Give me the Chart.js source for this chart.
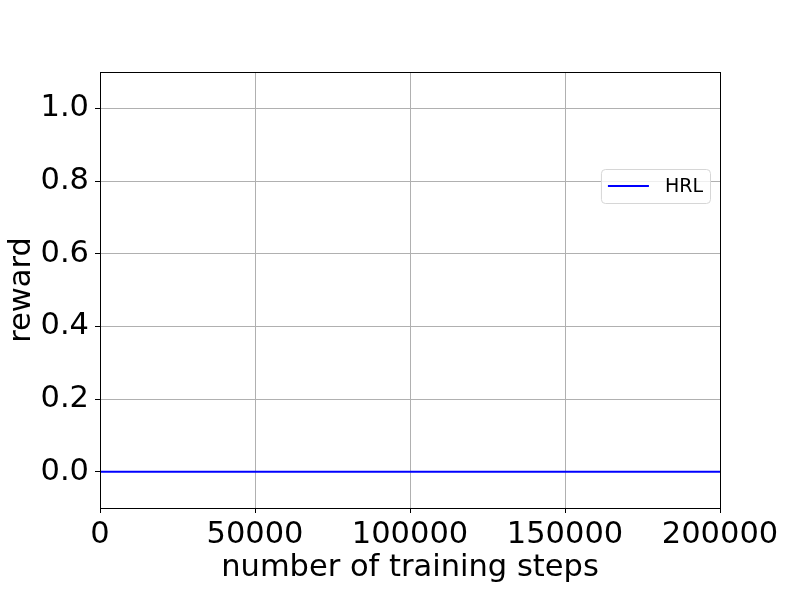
<!DOCTYPE html>
<html>
<head>
<meta charset="utf-8">
<script src="https://cdn.jsdelivr.net/npm/chart.js@4.4.0/dist/chart.umd.min.js"></script>
<style>
  body { margin: 0; background: #fff; }
  canvas { display: block; }
</style>
</head>
<body>
<canvas id="rewardChart" width="800" height="598"></canvas>
<script>
var steps   = [0, 50000, 100000, 150000, 200000];
var rewards = [0, 0, 0, 0, 0];
var seriesName = 'HRL';
var xTicks = [0, 50000, 100000, 150000, 200000];
var yTicks = [0.0, 0.2, 0.4, 0.6, 0.8, 1.0];

var fuente = 'DejaVu Sans';
var tam = 30.5;

// marco negro alrededor del area y leyenda estilo matplotlib
var marcoYLeyenda = {
    id: 'marcoYLeyenda',
    afterDraw: function(chart) {
        var ctx = chart.ctx;
        var a = chart.chartArea;
        ctx.save();
        ctx.strokeStyle = '#000';
        ctx.lineWidth = 1;
        ctx.strokeRect(Math.round(a.left) + 0.5, Math.round(a.top) + 0.5,
                       Math.round(a.right - a.left), Math.round(a.bottom - a.top));

        // leyenda
        var ds = chart.data.datasets[0];
        ctx.font = '19px "' + fuente + '"';
        var tw = ctx.measureText(ds.label).width;
        var w = 64 + tw + 7;
        var h = 34;
        var x = a.right - 10 - w;
        var y = a.top + 97;
        ctx.beginPath();
        ctx.roundRect(x + 0.5, y + 0.5, w, h, 4);
        ctx.fillStyle = 'rgba(255,255,255,0.8)';
        ctx.fill();
        ctx.strokeStyle = '#d6d6d6';
        ctx.stroke();

        ctx.beginPath();
        ctx.strokeStyle = ds.borderColor;
        ctx.lineWidth = ds.borderWidth;
        ctx.moveTo(x + 7, y + h / 2);
        ctx.lineTo(x + 48, y + h / 2);
        ctx.stroke();

        ctx.fillStyle = '#000';
        ctx.textBaseline = 'middle';
        ctx.fillText(ds.label, x + 64, y + h / 2 + 1);
        ctx.restore();
    }
};

var puntos = [];
for (var i = 0; i < steps.length; i++) {
    puntos.push({ x: steps[i], y: rewards[i] });
}

new Chart(document.getElementById('rewardChart').getContext('2d'), {
    type: 'line',
    data: {
        datasets: [
            {
                label: seriesName,
                data: puntos,
                borderColor: '#0000ff',
                backgroundColor: '#0000ff',
                borderWidth: 2,
                pointRadius: 0,
                tension: 0
            }
        ]
    },
    options: {
        responsive: false,
        animation: false,
        layout: { padding: { top: 72, right: 80, left: 0, bottom: 0 } },
        plugins: {
            legend: { display: false },
            tooltip: { enabled: false }
        },
        scales: {
            x: {
                type: 'linear',
                min: 0,
                max: 200000,
                afterBuildTicks: function(scale) {
                    scale.ticks = xTicks.map(function(v) { return { value: v }; });
                },
                afterFit: function(scale) { scale.height = 90; },
                ticks: {
                    color: '#000',
                    font: { family: fuente, size: tam },
                    padding: 4,
                    maxRotation: 0,
                    callback: function(v) { return String(v); }
                },
                grid: { color: '#b0b0b0', lineWidth: 1, tickColor: '#000', tickLength: 5 },
                border: { color: '#000', width: 1 },
                title: {
                    display: true,
                    text: 'number of training steps',
                    color: '#000',
                    font: { family: fuente, size: tam },
                    padding: { top: 0, bottom: 12 }
                }
            },
            y: {
                min: -0.1,
                max: 1.1,
                afterBuildTicks: function(scale) {
                    scale.ticks = yTicks.map(function(v) { return { value: v }; });
                },
                afterFit: function(scale) { scale.width = 100; },
                ticks: {
                    color: '#000',
                    font: { family: fuente, size: tam },
                    padding: 6,
                    callback: function(v) { return v.toFixed(1); }
                },
                grid: { color: '#b0b0b0', lineWidth: 1, tickColor: '#000', tickLength: 5 },
                border: { color: '#000', width: 1 },
                title: {
                    display: true,
                    text: 'reward',
                    color: '#000',
                    font: { family: fuente, size: tam },
                    padding: { top: 4, bottom: 0 }
                }
            }
        }
    },
    plugins: [marcoYLeyenda]
});
</script>
</body>
</html>
